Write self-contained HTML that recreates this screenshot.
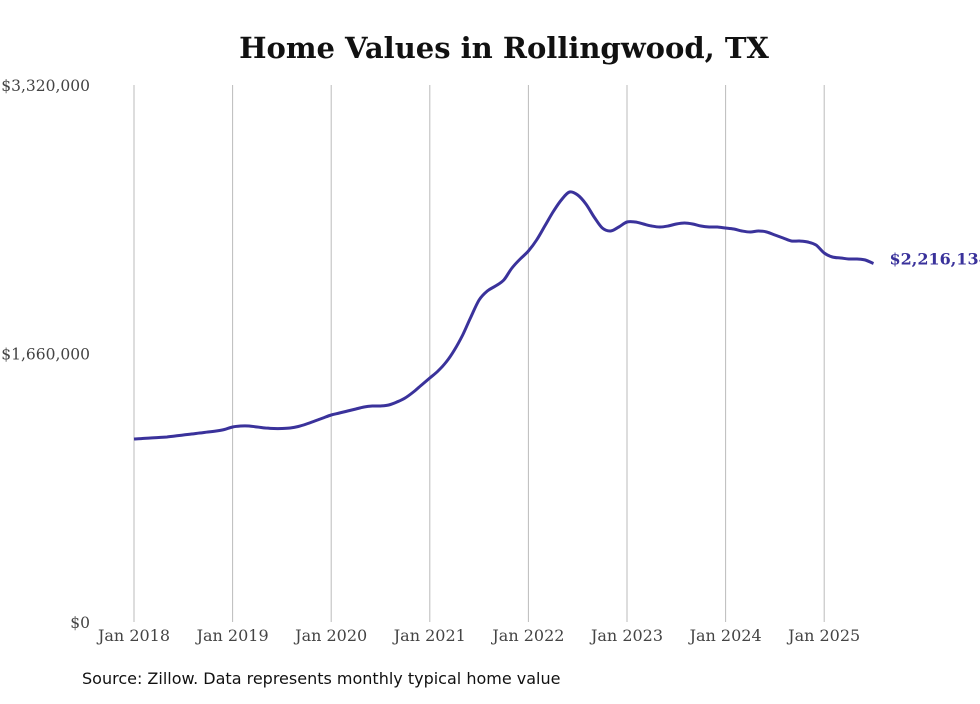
<!DOCTYPE html>
<html><head><meta charset="utf-8"><style>
body{margin:0;background:#fff;width:980px;height:699px;overflow:hidden}
svg text{font-family:"DejaVu Serif","Liberation Serif",serif}
</style></head><body>
<svg id="chart" width="980" height="699">
<text x="504" y="58" text-anchor="middle" font-size="29" font-weight="bold" fill="#111">Home Values in Rollingwood, TX</text>
<g id="grid"></g><g id="yticks"></g><g id="xticks"></g><g id="series"></g>
<text x="82" y="684" font-size="16" fill="#111" style="font-family:'DejaVu Sans',sans-serif">Source: Zillow. Data represents monthly typical home value</text>
</svg>
<script>
const yTickValues=[0,1660000,3320000];
const yTickLabels=["$0","$1,660,000","$3,320,000"];
const xTickYears=[2018,2019,2020,2021,2022,2023,2024,2025];
const startYear=2018;
const pixY=[439,438.5,438,437.5,437,436,435,434,433,432,431,429.5,
427,426,426,427,428,428.5,428.5,428,426.5,424,421,418,
415,413,411,409,407,406,406,405,402,398,392,385,
378,371,362,350,335,317,300,291,286,280,268,259,
251,240,226,212,200,192,195,204,217,228,231,227,
222,222,224,226,227,226,224,223,224,226,227,227,
228,229,231,232,231,232,235,238,241,241,242,245,
253,257,258,259,259,260,262];
const values=pixY.map(p=>Math.round((622-p)*6182.5));
values[values.length-1]=2216134;
const lastLabel="$2,216,134";
const NS="http://www.w3.org/2000/svg";
const y0=622,y1=85,x0=134,perYear=98.6;
const yS=v=>y0-(v/3320000)*(y0-y1);
const xS=m=>x0+m/12*perYear;
function mk(t,a,p){const e=document.createElementNS(NS,t);for(const k in a)e.setAttribute(k,a[k]);p.appendChild(e);return e;}
const grid=document.getElementById('grid'),xt=document.getElementById('xticks'),yt=document.getElementById('yticks'),se=document.getElementById('series');
xTickYears.forEach(yr=>{const x=xS((yr-startYear)*12);
const l=mk('line',{x1:x,x2:x,y1:y1,y2:y0,stroke:'#bbb','stroke-width':1},grid);


const t=mk('text',{x:x,y:641,'text-anchor':'middle','font-size':16,fill:'#444'},xt);t.textContent='Jan '+yr;

});
yTickValues.forEach((v,i)=>{const t=mk('text',{x:90,y:yS(v)+6,'text-anchor':'end','font-size':15.5,fill:'#444'},yt);t.textContent=yTickLabels[i];

});
const pts=values.map((v,i)=>[xS(i),yS(v)]);
let d='M'+pts[0][0].toFixed(1)+' '+pts[0][1].toFixed(1);
for(let i=1;i<pts.length;i++){const p0=pts[Math.max(0,i-2)],p1=pts[i-1],p2=pts[i],p3=pts[Math.min(pts.length-1,i+1)];
const c1=[p1[0]+(p2[0]-p0[0])/6,p1[1]+(p2[1]-p0[1])/6],c2=[p2[0]-(p3[0]-p1[0])/6,p2[1]-(p3[1]-p1[1])/6];
d+=' C'+c1.map(n=>n.toFixed(1)).join(' ')+' '+c2.map(n=>n.toFixed(1)).join(' ')+' '+p2.map(n=>n.toFixed(1)).join(' ');}
const path=mk('path',{d:d,fill:'none',stroke:'#3a329b','stroke-width':3,'stroke-linejoin':'round'},se);


const li=values.length-1;
const lab=mk('text',{x:xS(li)+16,y:yS(values[li])+1,'font-size':16,'font-weight':'bold',fill:'#3a329b'},se);
lab.textContent=lastLabel;


</script>
</body></html>
